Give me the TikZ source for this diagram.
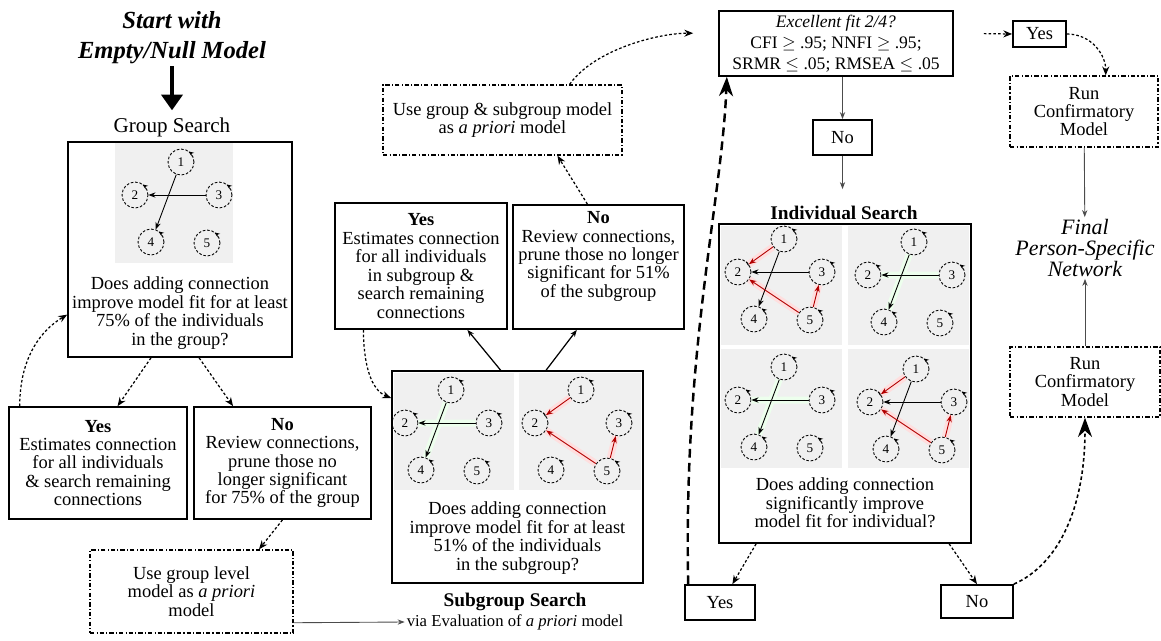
\documentclass[tikz,border=0pt]{standalone}
\usepackage{fontspec}
\setmainfont{Liberation Serif}
\usetikzlibrary{arrows.meta,decorations.markings}

\begin{document}
\begin{tikzpicture}[x=0.02cm,y=-0.02cm,
    every node/.style={font=\fontsize{10.5}{10.5}\selectfont,inner sep=1pt},
    box/.style={draw,line width=1pt,align=center},
    priorbox/.style={draw,line width=0.8pt,align=center,dash pattern=on 2.5pt off 1.2pt on 0.6pt off 1.2pt},
    netnode/.style={circle,draw,line width=0.5pt,dash pattern=on 1.5pt off 1pt,minimum size=0.52cm,inner sep=0pt,
      font=\fontsize{7.5}{7.5}\selectfont,
      postaction={decorate,decoration={markings,mark=at position 0.15 with {\arrow{Stealth[length=3pt,width=2.5pt]}}}}},
    blkedge/.style={line width=0.5pt,-{Stealth[length=4pt,width=3pt]}},
    rededge/.style={red!70!black,line width=0.5pt,-{Stealth[length=4pt,width=3pt]}},
    thinarrow/.style={gray!60!black,line width=0.5pt,-{Stealth[length=4pt,width=3pt]}},
    dotarrow/.style={line width=0.7pt,dash pattern=on 1.5pt off 1.2pt,-{Stealth[length=5pt,width=4pt]}},
    bigtip/.style={-{Stealth[length=11pt,width=8pt]}},
  ]
  \useasboundingbox (0,0) rectangle (1161,640);

  % grey panels behind the small networks
  \fill[gray!12] (115,143) rectangle (233,263);
  \fill[gray!12] (394,373) rectangle (514,490);
  \fill[gray!12] (519,373) rectangle (641,490);
  \foreach \bx/\by in {721/226,848/226,721/349,848/349}
    \fill[gray!12] (\bx,\by) rectangle +(121,119);

  % five variables in every panel
  \foreach \p/\lx/\ly in {g/135/195,sa/405/423,sb/535/423,ia/738/272,ib/868/275,ic/738/400,id/870/402}{
    \node[netnode] (\p1) at (\lx+46,\ly-33) {1};
    \node[netnode] (\p2) at (\lx,\ly) {2};
    \node[netnode] (\p3) at (\lx+84,\ly) {3};
    \node[netnode] (\p4) at (\lx+16,\ly+47) {4};
    \node[netnode] (\p5) at (\lx+72,\ly+48) {5};
  }
  \foreach \p in {sa,ib,ic}
    \draw[green!7,line width=0.14cm] (\p3) -- (\p2) (\p1) -- (\p4);
  \foreach \p in {sb,ia,id}
    \draw[red!13,line width=0.14cm] (\p1) -- (\p2) (\p5) -- (\p2) (\p5) -- (\p3);
  \foreach \p in {g,sa,ia,ib,ic,id}{
    \draw[blkedge] (\p3) -- (\p2);
    \draw[blkedge] (\p1) -- (\p4);
  }
  \foreach \p in {sb,ia,id}{
    \draw[rededge] (\p1) -- (\p2);
    \draw[rededge] (\p5) -- (\p2);
    \draw[rededge] (\p5) -- (\p3);
  }

  % group search
  \node[font=\fontsize{14}{17}\selectfont\bfseries\itshape,align=center] (start) at (172,38) {Start with\\Empty/Null Model};
  \node[font=\fontsize{12}{12}\selectfont] (grplabel) at (172,127) {Group Search};
  \draw[line width=2.8pt,-{Triangle[length=9pt,width=12pt]},shorten >=0.1cm] (start) -- (grplabel);
  \node[box,minimum width=4.48cm,minimum height=4.3cm] (grpbox) at (180,249.5) {};
  \node[align=center] (grpq) at (180,313) {Does adding connection\\improve model fit for at least\\75\% of the individuals\\in the group?};
  \node[box,minimum width=3.56cm,minimum height=2.24cm] (grpyes) at (98,463)
    {\textbf{Yes}\\Estimates connection\\for all individuals\\\& search remaining\\connections};
  \node[box,minimum width=3.54cm,minimum height=2.24cm] (grpno) at (282.5,463)
    {\textbf{No}\\Review connections,\\prune those no\\longer significant\\for 75\% of the group};
  \node[priorbox,minimum width=4.06cm,minimum height=1.66cm] (grpprior) at (191.5,591.5)
    {Use group level\\model as \textit{a priori}\\model};
  \draw[dotarrow] (grpbox.255) -- (grpyes.71);
  \draw[dotarrow] (grpbox.280) -- (grpno.131);
  \draw[dotarrow] (grpyes.144) .. controls +(0,-50) and +(-25,15) .. (grpbox.210);
  \draw[dotarrow] (grpno.south) -- (grpprior.32);

  % subgroup search
  \node[box,minimum width=5.02cm,minimum height=4.24cm] (sgbox) at (517.5,477) {};
  \node[align=center] (sgq) at (517.5,538) {Does adding connection\\improve model fit for at least\\51\% of the individuals\\in the subgroup?};
  \node[font=\fontsize{11}{11}\selectfont\bfseries] (sgname) at (515,602) {Subgroup Search};
  \node[font=\fontsize{9.5}{9.5}\selectfont] (sgvia) at (515,622) {via Evaluation of \textit{a priori} model};
  \draw[thinarrow] (grpprior.-17) -- (sgvia.west);
  \node[box,minimum width=3.44cm,minimum height=2.52cm] (sgyes) at (421,266)
    {\textbf{Yes}\\Estimates connection\\for all individuals\\in subgroup \&\\search remaining\\connections};
  \node[box,minimum width=3.42cm,minimum height=2.48cm] (sgno) at (598.5,267) {};
  \node[align=center,anchor=north,inner sep=4pt] (sgnotext) at (sgno.north)
    {\textbf{No}\\Review connections,\\prune those no longer\\significant for 51\%\\of the subgroup};
  \node[priorbox,minimum width=4.78cm,minimum height=1.4cm] (sgprior) at (502.5,120)
    {Use group \& subgroup model\\as \textit{a priori} model};
  \draw[blkedge,line width=0.7pt] (sgbox.99) -- (sgyes.306);
  \draw[blkedge,line width=0.7pt] (sgbox.75) -- (sgno.251);
  \draw[dotarrow] (sgyes.228) .. controls +(0,35) and +(-20,-8) .. (sgbox.148);
  \draw[dotarrow] (sgno.100) -- (sgprior.327);

  % individual search
  \node[box,align=center,minimum width=4.68cm,minimum height=1.3cm,font=\fontsize{10}{11.8}\selectfont] (fitbox) at (836,43.5)
    {\textit{Excellent fit 2/4?}\\CFI $\geq$ .95; NNFI $\geq$ .95;\\SRMR $\leq$ .05; RMSEA $\leq$ .05};
  \draw[dotarrow,shorten >=0.5cm] (sgprior.28) .. controls +(25,-35) and +(-60,0) .. (fitbox.175);
  \node[box,minimum width=1.18cm,minimum height=0.7cm] (fitno) at (842.5,137.5) {No};
  \node[font=\fontsize{11}{11}\selectfont\bfseries] (indlabel) at (844,213) {Individual Search};
  \node[box,minimum width=5.04cm,minimum height=6.38cm] (indbox) at (845,383.5) {};
  \node[align=center] (indq) at (845,503) {Does adding connection\\significantly improve\\model fit for individual?};
  \node[box,minimum width=1.4cm,minimum height=0.7cm] (indyes) at (720,602.5) {Yes};
  \node[box,minimum width=1.44cm,minimum height=0.66cm] (indno) at (977,601.5) {No};
  \draw[thinarrow] (fitno.north |- fitbox.south) -- (fitno.north);
  \draw[thinarrow,shorten >=0.3cm] (fitno.south) -- (fitno.south |- indlabel.north);
  \draw[dotarrow] (indbox.241) -- (indyes.56);
  \draw[dotarrow] (indbox.303) -- (indno.north);
  \draw[line width=1.4pt,dash pattern=on 5pt off 3pt,bigtip] (indyes.150) .. controls +(-5,-235) and +(-5,124) .. (fitbox.197);

  % confirmatory models
  \node[box,minimum width=1.06cm,minimum height=0.52cm] (topyes) at (1039.5,34) {Yes};
  \node[priorbox,minimum width=2.96cm,minimum height=1.42cm] (runtop) at (1084,111.5) {Run\\Confirmatory\\Model};
  \node[font=\fontsize{12.5}{12}\selectfont\itshape,align=center] (final) at (1085,248) {Final\\Person-Specific\\Network};
  \node[priorbox,minimum width=3cm,minimum height=1.4cm] (runbot) at (1085,382) {Run\\Confirmatory\\Model};
  \draw[dotarrow,shorten <=0.6cm] (fitbox.5) -- (topyes.west);
  \draw[dotarrow] (topyes.east) .. controls +(25,0) and +(0,-20) .. (runtop.59);
  \draw[thinarrow] (runtop) -- (final);
  \draw[thinarrow] (runbot) -- (final);
  \draw[line width=0.9pt,dash pattern=on 2pt off 1.5pt,bigtip] (indno.north east) .. controls +(45,-20) and +(0,90) .. (runbot.south);
\end{tikzpicture}
\end{document}
